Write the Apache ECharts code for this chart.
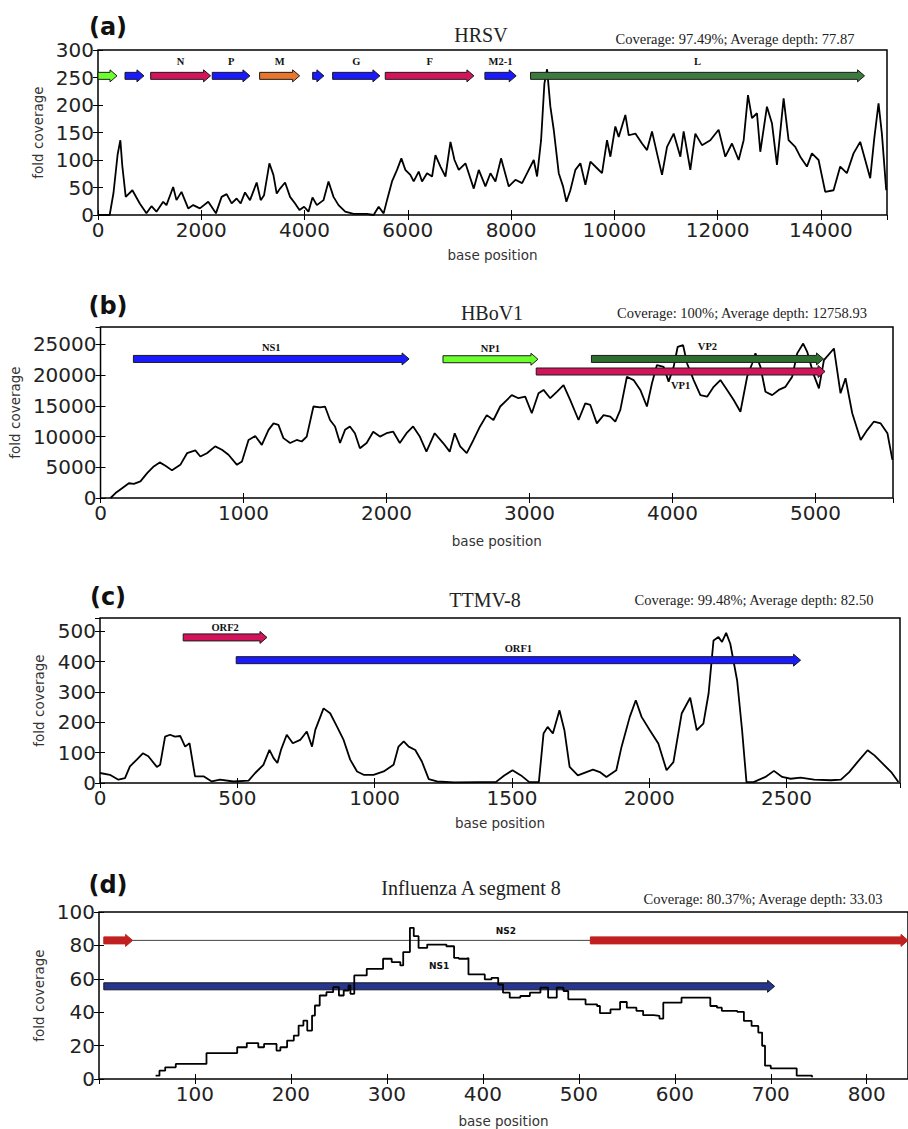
<!DOCTYPE html>
<html>
<head>
<meta charset="utf-8">
<title>Genome coverage</title>
<script src="https://cdn.jsdelivr.net/npm/echarts@6/dist/echarts.min.js"></script>
<style>
html, body { margin: 0; padding: 0; background: #fff; }
#chart { width: 908px; height: 1129px; }
</style>
</head>
<body>
<div id="chart"></div>
<script>
// (a) HRSV
var hrsvPos = [0, 226, 300, 380, 433, 470, 537, 666, 809, 938, 1035, 1132, 1262, 1326, 1456, 1520, 1617, 1747, 1844, 1973, 2135, 2284, 2394, 2491, 2588, 2685, 2763, 2847, 2944, 3073, 3151, 3216, 3319, 3397, 3461, 3526, 3623, 3720, 3817, 3901, 3992, 4076, 4154, 4238, 4367, 4464, 4561, 4658, 4788, 4950, 5208, 5338, 5435, 5532, 5597, 5694, 5791, 5875, 5952, 6049, 6114, 6211, 6275, 6373, 6470, 6535, 6632, 6729, 6826, 6904, 6987, 7116, 7277, 7374, 7503, 7600, 7697, 7806, 7955, 8084, 8213, 8310, 8439, 8503, 8581, 8645, 8697, 8761, 8826, 8923, 9006, 9071, 9148, 9245, 9342, 9439, 9536, 9665, 9761, 9858, 9923, 10019, 10084, 10213, 10278, 10407, 10536, 10633, 10729, 10826, 10923, 11020, 11149, 11278, 11342, 11471, 11568, 11697, 11858, 12019, 12149, 12278, 12407, 12504, 12588, 12665, 12762, 12826, 12955, 13052, 13149, 13278, 13374, 13503, 13600, 13729, 13826, 13955, 14084, 14245, 14374, 14503, 14632, 14761, 14858, 14955, 15033, 15116, 15181, 15265];
var hrsvDepth = [0, 0, 40, 110, 136, 90, 33, 45, 21, 3, 16, 6, 24, 18, 51, 27, 42, 12, 18, 12, 24, 3, 33, 38, 21, 30, 21, 41, 27, 59, 27, 36, 94, 73, 39, 48, 59, 33, 21, 9, 15, 6, 32, 18, 27, 61, 33, 18, 6, 2, 2, 0, 15, 3, 27, 61, 82, 103, 82, 73, 61, 79, 61, 76, 70, 109, 88, 70, 133, 100, 82, 94, 48, 82, 52, 76, 61, 103, 52, 64, 58, 76, 100, 70, 136, 239, 265, 197, 155, 76, 52, 24, 45, 82, 94, 55, 97, 85, 76, 136, 106, 161, 142, 182, 145, 148, 130, 118, 152, 112, 73, 124, 148, 106, 152, 82, 148, 127, 136, 155, 106, 130, 100, 136, 218, 176, 185, 115, 197, 167, 91, 212, 136, 124, 106, 88, 112, 100, 42, 45, 88, 76, 112, 133, 100, 67, 139, 203, 148, 45];
var hrsvGenes = ['', '', 'N', 'P', 'M', '', 'G', 'F', 'M2-1', 'L'];
var hrsvStart = [0, 523, 1020, 2213, 3130, 4157, 4544, 5563, 7493, 8377];
var hrsvEnd = [368, 890, 2180, 2943, 3905, 4375, 5460, 7280, 8099, 14845];
var hrsvRow = [253, 253, 253, 253, 253, 253, 253, 253, 253, 253];

// (b) HBoV1
var hbovPos = [70, 105, 151, 198, 233, 279, 326, 372, 414, 454, 500, 558, 605, 663, 698, 744, 802, 849, 895, 954, 989, 1035, 1082, 1128, 1175, 1210, 1244, 1279, 1326, 1372, 1407, 1442, 1489, 1535, 1570, 1605, 1640, 1675, 1710, 1744, 1779, 1814, 1861, 1907, 1954, 2000, 2047, 2093, 2140, 2186, 2233, 2279, 2337, 2396, 2442, 2477, 2515, 2561, 2608, 2654, 2701, 2748, 2795, 2841, 2876, 2923, 2970, 3016, 3063, 3098, 3145, 3191, 3238, 3285, 3343, 3390, 3425, 3471, 3518, 3565, 3600, 3635, 3681, 3728, 3775, 3821, 3856, 3891, 3938, 3973, 4008, 4036, 4074, 4102, 4148, 4195, 4242, 4288, 4335, 4382, 4428, 4475, 4522, 4557, 4580, 4615, 4650, 4697, 4743, 4790, 4837, 4872, 4914, 4942, 4984, 5024, 5059, 5129, 5175, 5210, 5257, 5316, 5363, 5409, 5456, 5503, 5538];
var hbovDepth = [0, 800, 1600, 2400, 2300, 2700, 4050, 5150, 5800, 5250, 4500, 5400, 7300, 7750, 6750, 7300, 8400, 7850, 7050, 5400, 5950, 9450, 10100, 8650, 11100, 12150, 11900, 9750, 8950, 9450, 9200, 10000, 14900, 14750, 14900, 12700, 11650, 8950, 11100, 11650, 10550, 8100, 8950, 10800, 10000, 10550, 10800, 8950, 10550, 11650, 10000, 7550, 10550, 8950, 7550, 10550, 8400, 7300, 9450, 11650, 13500, 12700, 14900, 15950, 16750, 16250, 16500, 13800, 17050, 17600, 16250, 17300, 18400, 15950, 12700, 15400, 15150, 12150, 13500, 13250, 12450, 14350, 19750, 19200, 17600, 14900, 18650, 21650, 21350, 18950, 21350, 24600, 24900, 21900, 19200, 16750, 16500, 18100, 19200, 17600, 15950, 14050, 19750, 21900, 23550, 21350, 17300, 16750, 17600, 18100, 19750, 23550, 25150, 23800, 20300, 17850, 22450, 24350, 17050, 19500, 13800, 9450, 11100, 12450, 12150, 10550, 6200];
var hbovGenes = ['NS1', 'NP1', 'VP2', 'VP1'];
var hbovStart = [230, 2395, 3433, 3047];
var hbovEnd = [2158, 3059, 5056, 5067];
var hbovRow = [22650, 22600, 22650, 20600];

// (c) TTMV-8
var ttmvPos = [0, 36, 67, 91, 109, 134, 156, 176, 207, 219, 237, 255, 273, 292, 310, 326, 346, 377, 407, 437, 486, 541, 565, 595, 617, 632, 646, 659, 680, 702, 729, 753, 772, 784, 814, 838, 863, 887, 911, 936, 960, 996, 1033, 1069, 1087, 1106, 1124, 1148, 1172, 1197, 1227, 1290, 1380, 1441, 1472, 1502, 1533, 1563, 1598, 1615, 1630, 1649, 1673, 1691, 1710, 1740, 1771, 1795, 1820, 1844, 1880, 1899, 1929, 1951, 1972, 2002, 2033, 2063, 2088, 2118, 2149, 2173, 2197, 2216, 2234, 2252, 2265, 2280, 2295, 2320, 2338, 2354, 2380, 2423, 2454, 2484, 2515, 2551, 2600, 2661, 2698, 2728, 2758, 2795, 2820, 2850, 2881, 2907];
var ttmvDepth = [33, 27, 11, 16, 55, 77, 98, 88, 53, 60, 153, 159, 153, 155, 120, 131, 22, 22, 5, 11, 5, 8, 33, 60, 109, 82, 66, 109, 159, 131, 142, 170, 120, 175, 246, 230, 186, 142, 77, 38, 27, 27, 38, 60, 120, 137, 120, 109, 71, 13, 5, 2, 3, 3, 25, 42, 25, 3, 3, 163, 185, 163, 240, 174, 53, 25, 36, 44, 36, 20, 42, 119, 218, 273, 218, 174, 130, 42, 69, 229, 281, 174, 196, 295, 470, 481, 465, 495, 459, 338, 174, 3, 3, 20, 40, 20, 14, 18, 11, 9, 11, 36, 69, 108, 91, 64, 36, 3];
var ttmvGenes = ['ORF2', 'ORF1'];
var ttmvStart = [303, 496];
var ttmvEnd = [608, 2551];
var ttmvRow = [480, 405];

// (d) Influenza A segment 8
var fluPos = [59, 63, 69, 80, 112, 144, 154, 166, 172, 185, 189, 196, 203, 208, 213, 217, 222, 225, 230, 237, 244, 250, 255, 260, 262, 266, 276, 279, 289, 296, 305, 314, 317, 324, 328, 333, 342, 352, 362, 370, 375, 382, 385, 402, 409, 416, 421, 428, 439, 449, 460, 468, 477, 484, 489, 507, 519, 522, 533, 543, 550, 560, 567, 578, 584, 588, 607, 627, 637, 644, 649, 665, 672, 680, 687, 691, 694, 700, 724, 727, 743];
var fluDepth = [2, 5, 7, 9, 15.5, 19, 21.5, 19, 21, 17, 19, 23, 26, 32, 35, 29, 38, 44, 50, 52, 55, 50, 53, 56, 51, 62, 62, 66, 66, 72, 70, 68, 76, 90.5, 85.5, 78.5, 80.5, 80.5, 79.5, 72.5, 72, 72.4, 62.6, 59.6, 60.6, 56.6, 51.7, 48.7, 49.7, 51.7, 54.7, 48.7, 54.7, 52.7, 47.7, 44.7, 43.7, 39.4, 41.7, 46.1, 42.7, 40.8, 38.2, 37.8, 36.2, 45.7, 48.7, 48.7, 43.7, 42.7, 40.8, 40.2, 34.8, 31.8, 27.8, 19.9, 8, 6.4, 6.4, 2, 1];
var fluGenes = ['NS2', '', '', 'NS1'];
var fluStart = [5, 5, 512, 5];
var fluEnd = [843, 35, 843, 704];
var fluRow = [83, 83, 83, 55.5];

// styles kept apart from the data
var BLUE = '#1a1aff', PINK = '#d4145a', LIME = '#6cff2e', ORANGE = '#e8762d';
var hrsvColors = [LIME, BLUE, PINK, BLUE, ORANGE, BLUE, BLUE, PINK, BLUE, '#3d7a3d'];
var hbovColors = [BLUE, LIME, '#2e6e2e', PINK];
var ttmvColors = [PINK, BLUE];
var fluColors = ['line', '#c0201f', '#c0201f', '#26358f'];

var panels = [
	{ tag: '(a)', title: 'HRSV', stats: 'Coverage: 97.49%; Average depth: 77.87',
	  grid: { left: 98, top: 50, width: 789, height: 165 }, xMax: 15280, xStep: 2000, yMax: 300, yStep: 50,
	  tagXY: [108, 27], titleXY: [481, 35], statsXY: [735, 39], xGap: 33, yGap: 52,
	  pos: hrsvPos, depth: hrsvDepth, genes: [hrsvGenes, hrsvStart, hrsvEnd, hrsvRow, hrsvColors],
	  labelGap: [-14, -14, -14, -14, -14, -14, -14, -14, -14, -14], serif: true, curveOnTop: false },
	{ tag: '(b)', title: 'HBoV1', stats: 'Coverage: 100%; Average depth: 12758.93',
	  grid: { left: 100, top: 327, width: 793, height: 171 }, xMax: 5542, xStep: 1000, yMax: 27850, yStep: 5000,
	  tagXY: [108, 306], titleXY: [492, 313], statsXY: [742, 313], xGap: 36, yGap: 54,
	  pos: hbovPos, depth: hbovDepth, genes: [hbovGenes, hbovStart, hbovEnd, hbovRow, hbovColors],
	  labelGap: [-11, -11, -12, 14], serif: true, curveOnTop: false },
	{ tag: '(c)', title: 'TTMV-8', stats: 'Coverage: 99.48%; Average depth: 82.50',
	  grid: { left: 100, top: 618, width: 800, height: 165 }, xMax: 2913, xStep: 500, yMax: 544, yStep: 100,
	  tagXY: [108, 597], titleXY: [485, 600], statsXY: [754, 600], xGap: 33, yGap: 54,
	  pos: ttmvPos, depth: ttmvDepth, genes: [ttmvGenes, ttmvStart, ttmvEnd, ttmvRow, ttmvColors],
	  labelGap: [-10, -12], serif: true, curveOnTop: false },
	{ tag: '(d)', title: 'Influenza A segment 8', stats: 'Coverage: 80.37%; Average depth: 33.03',
	  grid: { left: 99, top: 912, width: 809, height: 168 }, xMax: 843, xStep: 100, yMax: 100, yStep: 20,
	  tagXY: [108, 885], titleXY: [471, 888], statsXY: [763, 899], xGap: 35, yGap: 53,
	  pos: fluPos, depth: fluDepth, genes: [fluGenes, fluStart, fluEnd, fluRow, fluColors],
	  labelGap: [-9, 0, 0, -20], serif: false, curveOnTop: true, step: 'end', hideZero: true }
];

var TICK_FONT = { color: '#222', fontSize: 20, fontFamily: 'DejaVu Sans' };
var NAME_FONT = { color: '#333', fontSize: 13.5, fontFamily: 'DejaVu Sans' };

function plain( v ) { return String(v); }

function geneSeries(k, p) {
	var names = p.genes[0], starts = p.genes[1], ends = p.genes[2], rows = p.genes[3], colors = p.genes[4];
	return {
		type: 'custom',
		xAxisIndex: 2 * k,
		yAxisIndex: 2 * k,
		z: p.curveOnTop ? 2 : 4,
		silent: true,
		encode: { x: [0, 1], y: 2 },
		data: starts.map(function( s, i ) { return [s, ends[i], rows[i]]; }),
		renderItem: function( params, api ) {
			var i = params.dataIndex;
			var a = api.coord([api.value(0), api.value(2)]);
			var b = api.coord([api.value(1), api.value(2)]);
			var y = a[1], kids = [];
			var c = colors[i];
			if ( c === 'line' ) {
				kids.push({ type: 'line', shape: { x1: a[0], y1: y, x2: b[0], y2: y },
					style: { stroke: '#444', lineWidth: 1 } });
			} else {
				var hl = Math.min(7, b[0] - a[0]), h = 3.5, hh = 6;
				kids.push({ type: 'polygon', shape: { points: [
					[a[0], y - h], [b[0] - hl, y - h], [b[0] - hl, y - hh], [b[0], y],
					[b[0] - hl, y + hh], [b[0] - hl, y + h], [a[0], y + h]] },
					style: { fill: c, stroke: c === '#c0201f' ? c : '#1a1a1a', lineWidth: 1 } });
			}
			if ( names[i] ) {
				kids.push({ type: 'text', x: (a[0] + b[0]) / 2, y: y + p.labelGap[i],
					style: { text: names[i], textAlign: 'center', textVerticalAlign: 'middle',
						fill: '#111', fontWeight: 'bold',
						fontSize: p.serif ? 10.5 : 9,
						fontFamily: p.serif ? 'Liberation Serif' : 'DejaVu Sans' } });
			}
			return { type: 'group', children: kids };
		}
	};
}

var grids = [], xAxes = [], yAxes = [], series = [], graphics = [];

panels.forEach(function( p, k ) {
	grids.push({ left: p.grid.left, top: p.grid.top, width: p.grid.width, height: p.grid.height,
		show: true, borderColor: '#000', borderWidth: 1.5, backgroundColor: 'transparent' });

	var tick = { show: true, inside: true, length: 5, lineStyle: { color: '#000', width: 1 } };
	xAxes.push({ gridIndex: k, type: 'value', position: 'bottom', min: 0, max: p.xMax, interval: p.xStep,
		axisLine: { show: false }, splitLine: { show: false }, axisTick: tick,
		axisLabel: Object.assign({ margin: 5, formatter: plain, showMaxLabel: false, showMinLabel: !p.hideZero, hideOverlap: false }, TICK_FONT),
		name: 'base position', nameLocation: 'middle', nameGap: p.xGap, nameTextStyle: NAME_FONT });
	xAxes.push({ gridIndex: k, type: 'value', position: 'top', min: 0, max: p.xMax, interval: p.xStep,
		axisLine: { show: false }, splitLine: { show: false }, axisTick: tick, axisLabel: { show: false } });
	yAxes.push({ gridIndex: k, type: 'value', position: 'left', min: 0, max: p.yMax, interval: p.yStep,
		axisLine: { show: false }, splitLine: { show: false }, axisTick: tick,
		axisLabel: Object.assign({ margin: 4, formatter: plain, showMaxLabel: p.yMax % p.yStep === 0, hideOverlap: false }, TICK_FONT),
		name: 'fold coverage', nameLocation: 'middle', nameGap: p.yGap, nameTextStyle: NAME_FONT });
	yAxes.push({ gridIndex: k, type: 'value', position: 'right', min: 0, max: p.yMax, interval: p.yStep,
		axisLine: { show: false }, splitLine: { show: false }, axisTick: tick, axisLabel: { show: false } });

	series.push(geneSeries(k, p));
	series.push({
		type: 'line', xAxisIndex: 2 * k, yAxisIndex: 2 * k, z: 3,
		data: p.pos.map(function( x, i ) { return [x, p.depth[i]]; }),
		showSymbol: false, symbol: 'none', step: p.step || false,
		lineStyle: { color: '#000', width: 1.8 }, silent: true
	});

	graphics.push({ type: 'text', x: p.tagXY[0], y: p.tagXY[1],
		style: { text: p.tag, textAlign: 'center', textVerticalAlign: 'middle', fill: '#111',
			fontSize: 24, fontWeight: 'bold', fontFamily: 'DejaVu Sans' } });
	graphics.push({ type: 'text', x: p.titleXY[0], y: p.titleXY[1],
		style: { text: p.title, textAlign: 'center', textVerticalAlign: 'middle', fill: '#222',
			fontSize: 20, fontFamily: 'Liberation Serif' } });
	graphics.push({ type: 'text', x: p.statsXY[0], y: p.statsXY[1],
		style: { text: p.stats, textAlign: 'center', textVerticalAlign: 'middle', fill: '#222',
			fontSize: 14.5, fontFamily: 'Liberation Serif' } });
});

var chart = echarts.init(document.getElementById('chart'), null, { renderer: 'svg' });
chart.setOption({
	animation: false,
	backgroundColor: '#fff',
	grid: grids,
	xAxis: xAxes,
	yAxis: yAxes,
	series: series,
	graphic: graphics
});
</script>
</body>
</html>
